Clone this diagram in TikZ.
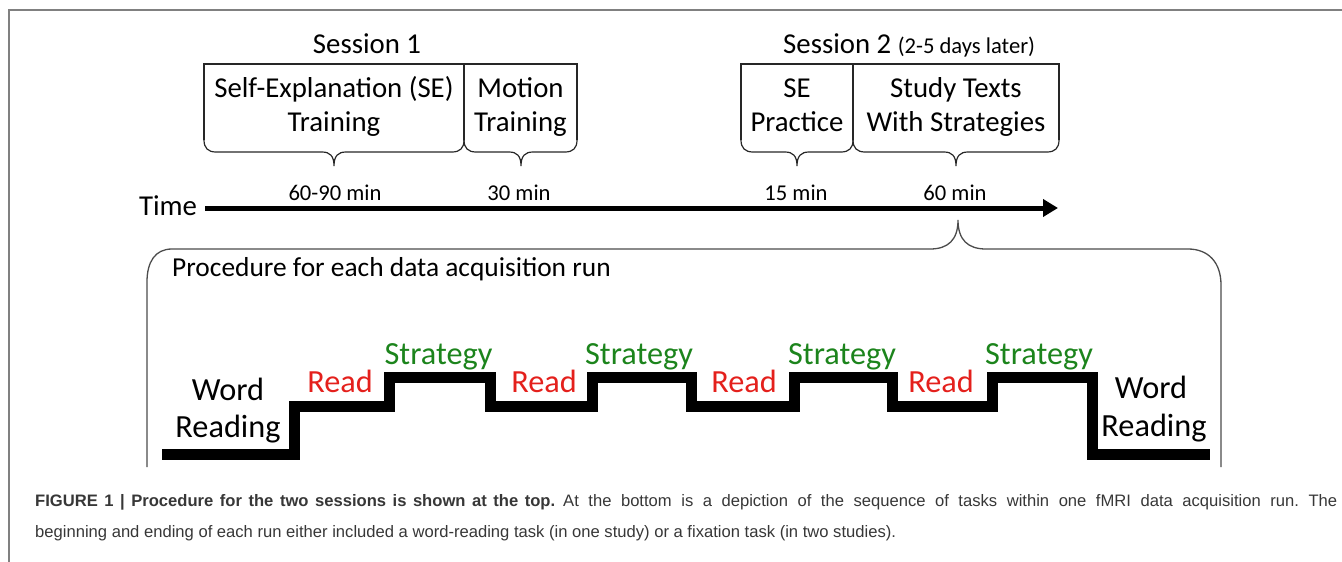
\documentclass[tikz,border=0pt]{standalone}
\usepackage{fontspec}
\setmainfont{Carlito}
\newfontfamily\capfont{Liberation Sans}
\usetikzlibrary{arrows.meta}
\definecolor{rdc}{RGB}{228,32,28}
\definecolor{grc}{RGB}{28,132,28}
\definecolor{capc}{RGB}{55,55,55}
\tikzset{
  big/.style={font=\fontsize{28.8pt}{32pt}\selectfont, inner sep=0pt, anchor=base},
  dur/.style={font=\fontsize{22.6pt}{26pt}\selectfont, inner sep=0pt, anchor=base},
  stairtxt/.style={font=\fontsize{32.3pt}{36pt}\selectfont, inner sep=0pt, anchor=base},
  boxline/.style={line width=1.2pt, draw=black!85},
  bracketline/.style={line width=1.3pt, draw=black!70},
  stairline/.style={line width=11pt, line join=miter, line cap=butt},
  timeline/.style={line width=5pt, -{Triangle[length=15pt,width=17pt]}},
  frameline/.style={line width=1.5pt, draw=black!50},
  capt/.style={font=\capfont\fontsize{16.6pt}{20pt}\selectfont\frenchspacing, text=capc, inner sep=0pt, anchor=base west},
}
\begin{document}
\begin{tikzpicture}[x=1pt,y=-1pt]
\useasboundingbox (0,0) rectangle (1342,562);
% frame
\draw[frameline] (9,562) -- (9,10) -- (1342,10);

% session titles
\node[big] (s1) at (367,53) {Session 1};
\node[big, anchor=base west] (s2) at (783,53) {Session 2 {\fontsize{22.6pt}{26pt}\selectfont(2-5 days later)}};

% boxes
\draw[boxline] (204,140) -- (204,64) -- (577,64) -- (577,140);
\draw[boxline] (464,64) -- (464,140);
\draw[boxline] (741,140) -- (741,64) -- (1059,64) -- (1059,140);
\draw[boxline] (853,64) -- (853,140);

% braces
\foreach \l/\m/\r in {204/334/464, 464/521/577, 741/797/853, 853/956/1059}{
  \draw[boxline] (\l,140) .. controls (\l,148) and (\l+4,152) .. (\l+12,152)
    -- (\m-12,152) .. controls (\m-4,152) and (\m,156) .. (\m,166)
    .. controls (\m,156) and (\m+4,152) .. (\m+12,152)
    -- (\r-12,152) .. controls (\r-4,152) and (\r,148) .. (\r,140);
}

% box texts
\node[big] (se1) at (334,97) {Self-Explanation (SE)};
\node[big] (se2) at (334,131) {Training};
\node[big] (mo1) at (520.5,97) {Motion};
\node[big] (mo2) at (520.5,131) {Training};
\node[big] (sp1) at (797,97) {SE};
\node[big] (sp2) at (797,131) {Practice};
\node[big] (st1) at (956,97) {Study Texts};
\node[big] (st2) at (956,131) {With Strategies};

% durations
\node[dur] (d1) at (335,200) {60-90 min};
\node[dur] (d2) at (519,200) {30 min};
\node[dur] (d3) at (796,200) {15 min};
\node[dur] (d4) at (955,200) {60 min};

% time axis
\node[big] (time) at (168,215) {Time};
\coordinate (tstart) at (205,208);
\coordinate (tend) at (1058,208);
\draw[timeline] (tstart) -- (tend);

% big bracket
\draw[bracketline] (147,467) -- (147,282) .. controls (147,262) and (155,249) .. (172,249)
  -- (930,249) .. controls (948,249) and (958,240) .. (958,220)
  .. controls (958,240) and (968,249) .. (986,249)
  -- (1188,249) .. controls (1208,249) and (1221,262) .. (1221,285) -- (1221,467);
\node[font=\fontsize{27.4pt}{30pt}\selectfont, inner sep=0pt, anchor=base west] (proc) at (172,276) {Procedure for each data acquisition run};

% staircase
\draw[stairline] (162,454) -| (294,406) -| (389,377) -| (490,406) -| (592,377)
  -| (691,406) -| (794,377) -| (892,406) -| (992,377) -| (1092,454) -- (1210,454);

\node[stairtxt] (w1) at (228,400) {Word};
\node[stairtxt] (r1) at (228,437) {Reading};
\node[stairtxt] (w2) at (1151,398) {Word};
\node[stairtxt] (r2) at (1154,436) {Reading};
\node[stairtxt, text=rdc] (rd1) at (340,392) {Read};
\node[stairtxt, text=rdc] (rd2) at (544,392) {Read};
\node[stairtxt, text=rdc] (rd3) at (744,392) {Read};
\node[stairtxt, text=rdc] (rd4) at (941,392) {Read};
\node[stairtxt, text=grc] (sg1) at (438.5,364) {Strategy};
\node[stairtxt, text=grc] (sg2) at (639,364) {Strategy};
\node[stairtxt, text=grc] (sg3) at (842,364) {Strategy};
\node[stairtxt, text=grc] (sg4) at (1039,364) {Strategy};

% caption
\node[capt] (cap1) at (35,506) {\makebox[1302pt][l]{\makebox[520pt][s]{\bfseries FIGURE 1 | Procedure for the two sessions is shown at the top.}\hspace{8pt}\makebox[774pt][s]{At the bottom is a depiction of the sequence of tasks within one fMRI data acquisition run. The}}};
\node[capt] (cap2) at (35,537) {beginning and ending of each run either included a word-reading task (in one study) or a fixation task (in two studies).};
\end{tikzpicture}
\end{document}
